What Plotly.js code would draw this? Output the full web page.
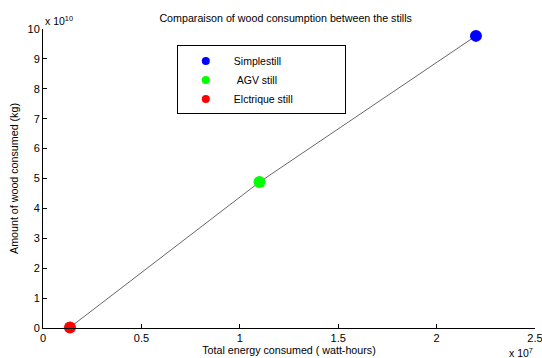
<!DOCTYPE html>
<html><head><meta charset="utf-8">
<script src="https://cdn.plot.ly/plotly-3.0.1.min.js"></script>
<style>body{margin:0;background:#fff}#c{width:542px;height:358px}</style>
</head><body><div id="c"></div>
<script>
// Data (raw units)
const stills = ['Simplestill', '\u00a0AGV still', 'Elctrique still'];
const energyWh = [2.2e7, 1.1e7, 0.137e7];
const woodKg = [9.77e10, 4.88e10, 0.02e10];
const colors = ['#0000ff', '#00ff00', '#ff0000'];
const xTickVals = [0, 0.5e7, 1e7, 1.5e7, 2e7, 2.5e7];
const xTickText = ['0', '0.5', '1', '1.5', '2', '2.5'];
const yTickVals = [0,1e10,2e10,3e10,4e10,5e10,6e10,7e10,8e10,9e10,10e10];
const yTickText = ['0','1','2','3','4','5','6','7','8','9','10'];

const font = 'Liberation Sans, Arial, sans-serif';
const pad = '\u00a0'.repeat(16);
const traces = [];
const order = [2, 1, 0];
traces.push({
  x: order.map(i => energyWh[i]), y: order.map(i => woodKg[i]),
  mode: 'lines', line: {color: '#404040', width: 0.8},
  showlegend: false, hoverinfo: 'skip'
});
stills.forEach((s, i) => {
  traces.push({x: [energyWh[i]], y: [woodKg[i]], mode: 'markers',
    marker: {color: colors[i], size: 12}, showlegend: false, cliponaxis: false});
});
stills.forEach((s, i) => {
  traces.push({x: [null], y: [null], mode: 'markers', name: s + (i === 2 ? pad : ''),
    marker: {color: colors[i], size: 8}});
});

const layout = {
  width: 542, height: 358,
  margin: {l: 43, r: 7, t: 29, b: 30},
  paper_bgcolor: '#fff', plot_bgcolor: '#fff',
  font: {family: font, size: 10.5, color: '#000'},
  title: {text: 'Comparaison of wood consumption between the stills',
    x: 0.527, xanchor: 'center', y: 0.95, yanchor: 'middle', font: {size: 10.7}},
  xaxis: {range: [0, 2.5e7], tickvals: xTickVals, ticktext: xTickText,
    ticklabeloverflow: 'allow',
    ticks: 'inside', ticklen: 4, tickcolor: '#000', showgrid: false, zeroline: false,
    showline: true, linecolor: '#000', linewidth: 1, tickfont: {size: 11},
    title: {text: 'Total energy consumed ( watt-hours)', font: {size: 10.7}, standoff: 3}},
  yaxis: {range: [0, 10e10], tickvals: yTickVals, ticktext: yTickText,
    ticklabeloverflow: 'allow',
    ticks: 'inside', ticklen: 4, tickcolor: '#000', showgrid: false, zeroline: false,
    showline: true, linecolor: '#000', linewidth: 1, tickfont: {size: 11},
    title: {text: 'Amount of wood consumed (kg)', font: {size: 10.7}, standoff: 6}},
  legend: {x: 0.272, y: 0.945, xanchor: 'left', yanchor: 'top', itemwidth: 46,
    bordercolor: '#000', borderwidth: 1, bgcolor: '#fff', font: {size: 10.5}},
  annotations: [
    {xref: 'paper', yref: 'paper', x: 0, y: 1, xanchor: 'left', yanchor: 'bottom',
     xshift: 0, text: 'x 10<sup>10</sup>', showarrow: false, font: {size: 10.5}},
    {xref: 'paper', yref: 'paper', x: 1, y: 0, xanchor: 'right', yanchor: 'top',
     xshift: 0, yshift: -16, text: 'x 10<sup>7</sup>', showarrow: false, font: {size: 10.5}}
  ]
};
Plotly.newPlot('c', traces, layout, {displayModeBar: false, staticPlot: true});
</script></body></html>
